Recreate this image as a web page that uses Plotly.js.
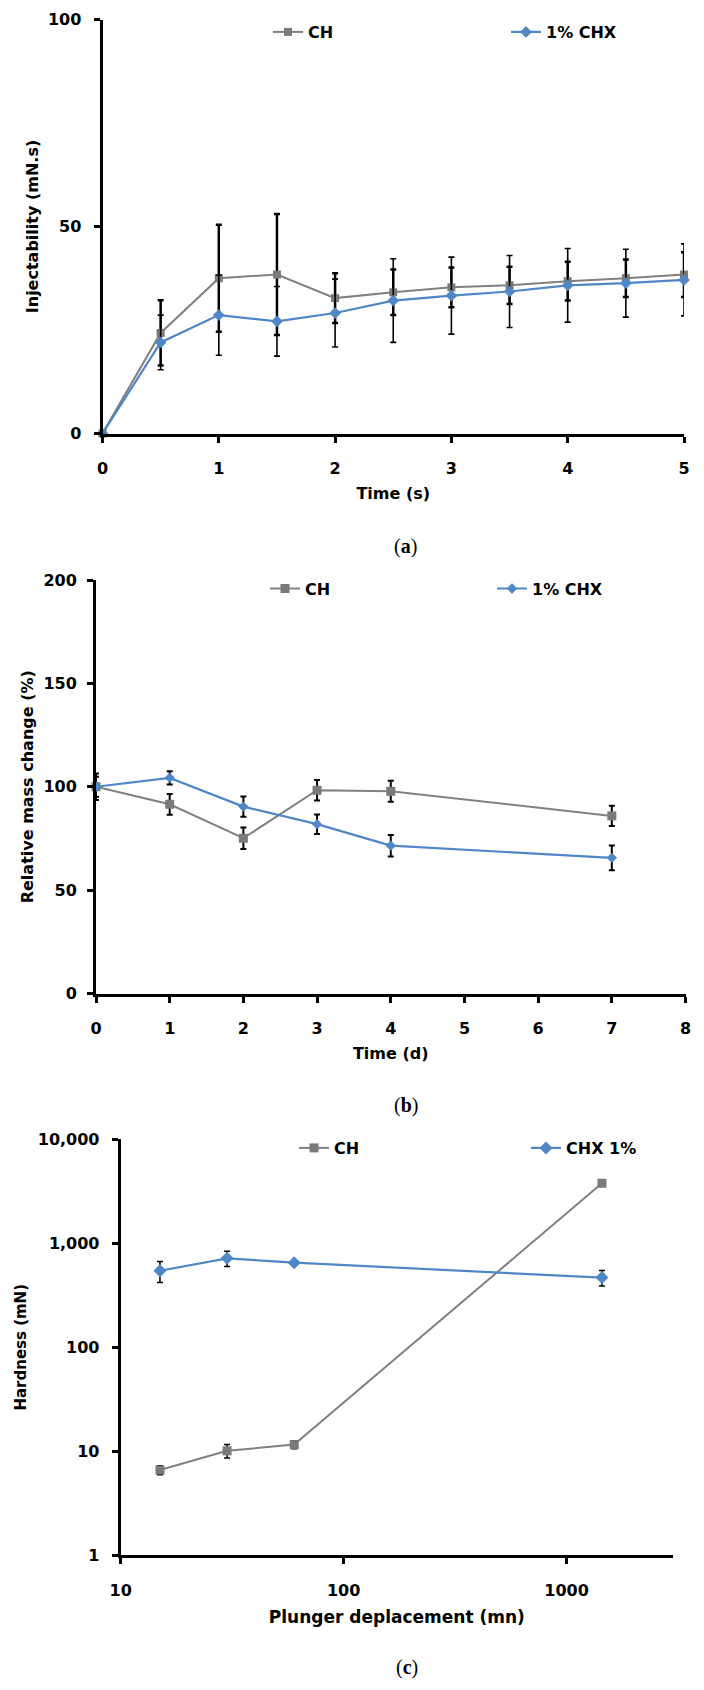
<!DOCTYPE html>
<html><head><meta charset="utf-8">
<script src="https://cdn.plot.ly/plotly-3.0.1.min.js"></script>
<style>html,body{margin:0;padding:0;background:#fff}</style>
</head><body><div id="chart" style="width:704px;height:1690px"></div>
<script>
// ---------- data (a) Injectability ----------
const aTime = [0, 0.5, 1, 1.5, 2, 2.5, 3, 3.5, 4, 4.5, 5];
const aCH = [0, 24.3, 37.5, 38.4, 32.7, 34.1, 35.3, 35.8, 36.8, 37.5, 38.4];
const aCHerr = [0, 7.9, 12.9, 14.6, 6.0, 5.5, 4.8, 4.5, 4.7, 4.5, 5.4];
const aCHX = [0, 22.0, 28.6, 27.1, 29.1, 32.1, 33.3, 34.3, 35.8, 36.3, 37.1];
const aCHXerr = [0, 6.6, 9.7, 8.4, 8.2, 10.1, 9.3, 8.7, 8.9, 8.2, 8.7];
// ---------- data (b) Relative mass change ----------
const bTime = [0, 1, 2, 3, 4, 7];
const bCH = [100, 91.5, 75.1, 98.3, 97.8, 85.9];
const bCHerr = [6.4, 5.0, 5.2, 5.0, 5.1, 4.9];
const bCHX = [100, 104.3, 90.4, 81.9, 71.5, 65.6];
const bCHXerr = [4.8, 3.2, 4.9, 4.7, 5.2, 6.0];
// ---------- data (c) Hardness ----------
const cDisp = [15, 30, 60, 1440];
const cCH = [6.6, 10.1, 11.6, 3780];
const cCHerr = [0.65, 1.5, 1.0, 150];
const cCHX = [545, 717, 651, 468];
const cCHXerr = [125, 120, 20, 80];
// ---------- labels ----------
const nameCH = 'CH';
const nameCHXa = '1% CHX';
const nameCHXc = 'CHX 1%';
const cYTickVals = [1, 10, 100, 1000, 10000];
const cYTickText = ['1', '10', '100', '1,000', '10,000'];
const cXTickVals = [10, 100, 1000];
const cXTickText = ['10', '100', '1000'];

const W = 704, H = 1690;
const px = v => v / W;
const py = v => 1 - v / H;
const F = 'DejaVu Sans';
const GRAY = '#808080', BLUE = '#4F86C6';
const tickfont = {family: F, size: 16, color: '#000', weight: 'bold'};
const titlefont = {family: F, size: 16, color: '#000', weight: 'bold'};

function err(arr, th) {
  return {type: 'data', array: arr, visible: true, color: '#000', thickness: th, width: 3};
}
function chTrace(x, y, e, xa, ya, lg, th, ms) {
  return {x: x, y: y, name: nameCH, type: 'scatter', mode: 'lines+markers', xaxis: xa, yaxis: ya, legend: lg,
    line: {color: GRAY, width: 2}, marker: {symbol: 'square', size: ms, color: '#7a7a7a'},
    error_y: err(e, th), cliponaxis: false};
}
function chxTrace(x, y, e, name, xa, ya, lg, th, ms) {
  return {x: x, y: y, name: name, type: 'scatter', mode: 'lines+markers', xaxis: xa, yaxis: ya, legend: lg,
    line: {color: BLUE, width: 2.2}, marker: {symbol: 'diamond', size: ms, color: BLUE},
    error_y: err(e, th), cliponaxis: false};
}

const data = [
  chTrace(aTime, aCH, aCHerr, 'x', 'y', 'legend', 2.5, 8),
  chxTrace(aTime, aCHX, aCHXerr, nameCHXa, 'x', 'y', 'legend', 1.6, 9),
  chTrace(bTime, bCH, bCHerr, 'x2', 'y2', 'legend2', 2, 9),
  chxTrace(bTime, bCHX, bCHXerr, nameCHXa, 'x2', 'y2', 'legend2', 2, 8),
  chTrace(cDisp, cCH, cCHerr, 'x3', 'y3', 'legend3', 1.5, 9),
  chxTrace(cDisp, cCHX, cCHXerr, nameCHXc, 'x3', 'y3', 'legend3', 1.5, 10)
];

function baseAxis(extra) {
  return Object.assign({
    showline: true, linecolor: '#000', linewidth: 3, ticks: 'outside', ticklen: 6, tickwidth: 3,
    tickcolor: '#000', showgrid: false, zeroline: false, tickfont: tickfont, automargin: false, fixedrange: true
  }, extra);
}
function legendCfg(xStart, yMid, ew) {
  return {orientation: 'h', x: px(xStart), xanchor: 'left', y: py(yMid), yanchor: 'middle',
    entrywidth: ew, entrywidthmode: 'pixels', bgcolor: 'rgba(0,0,0,0)', itemwidth: 30,
    font: {family: F, size: 16, color: '#000', weight: 'bold'}, traceorder: 'normal'};
}

const layout = {
  width: W, height: H, autosize: false,
  margin: {l: 0, r: 0, t: 0, b: 0, autoexpand: false},
  paper_bgcolor: '#fff', plot_bgcolor: '#fff', hovermode: false,
  xaxis: baseAxis({domain: [px(102.5), px(684)], anchor: 'y', range: [0, 5], dtick: 1, ticklabelstandoff: 12,
    title: {text: 'Time (s)', font: titlefont, standoff: 12}}),
  yaxis: baseAxis({domain: [py(433.5), py(19.5)], anchor: 'x', range: [0, 100], dtick: 50, ticklabelstandoff: 9,
    title: {text: 'Injectability (mN.s)', font: titlefont, standoff: 6}}),
  xaxis2: baseAxis({domain: [px(96), px(685.5)], anchor: 'y2', range: [0, 8], dtick: 1, ticklabelstandoff: 12,
    title: {text: 'Time (d)', font: titlefont, standoff: 12}}),
  yaxis2: baseAxis({domain: [py(993.5), py(580)], anchor: 'x2', range: [0, 200], dtick: 50, ticklabelstandoff: 7,
    title: {text: 'Relative mass change (%)', font: titlefont, standoff: 6}}),
  xaxis3: baseAxis({domain: [px(120.7), px(673)], anchor: 'y3', type: 'log', range: [1, Math.log10(3000)],
    tickvals: cXTickVals, ticktext: cXTickText, ticklabelstandoff: 12,
    title: {text: 'Plunger deplacement (mn)', font: {family: F, size: 17, color: '#000', weight: 'bold'}, standoff: 13}}),
  yaxis3: baseAxis({domain: [py(1555.3), py(1139.3)], anchor: 'x3', type: 'log', range: [0, 4],
    tickvals: cYTickVals, ticktext: cYTickText, ticklabelstandoff: 9,
    title: {text: 'Hardness (mN)', font: {family: F, size: 15, color: '#000', weight: 'bold'}, standoff: 8}}),
  legend: legendCfg(268, 32, 193),
  legend2: legendCfg(265, 588.6, 182),
  legend3: legendCfg(294, 1148, 187),
  annotations: [
    {text: '(<b>a</b>)', x: px(405), y: py(547), xref: 'paper', yref: 'paper', showarrow: false,
      xanchor: 'center', yanchor: 'middle', font: {family: 'Liberation Serif', size: 20, color: '#000'}},
    {text: '(<b>b</b>)', x: px(406), y: py(1105), xref: 'paper', yref: 'paper', showarrow: false,
      xanchor: 'center', yanchor: 'middle', font: {family: 'Liberation Serif', size: 20, color: '#000'}},
    {text: '(<b>c</b>)', x: px(407), y: py(1667), xref: 'paper', yref: 'paper', showarrow: false,
      xanchor: 'center', yanchor: 'middle', font: {family: 'Liberation Serif', size: 20, color: '#000'}}
  ]
};

Plotly.newPlot('chart', data, layout, {displayModeBar: false, staticPlot: true});
</script></body></html>
